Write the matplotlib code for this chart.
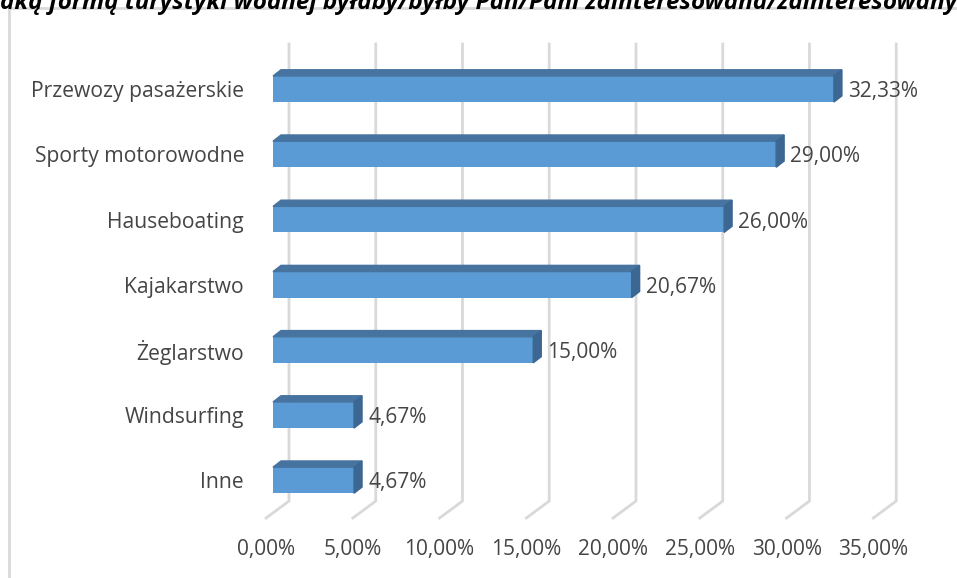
import matplotlib.pyplot as plt
from matplotlib.patches import Polygon, Rectangle

plt.rcParams["font.family"] = ["Open Sans", "DejaVu Sans"]

# Survey results: preferred form of water tourism
categories = ["Przewozy pasażerskie", "Sporty motorowodne", "Hauseboating",
              "Kajakarstwo", "Żeglarstwo", "Windsurfing", "Inne"]
values = [32.33, 29.00, 26.00, 20.67, 15.00, 4.67, 4.67]
x_ticks = [0, 5, 10, 15, 20, 25, 30, 35]
title = "Jaką formą turystyki wodnej byłaby/byłby Pan/Pani zainteresowana/zainteresowany"

front = "#5b9bd5"
top_col = "#4673a0"
side_col = "#3b6792"
grid_col = "#d9d9d9"
text_col = "#454545"

fig = plt.figure(figsize=(9.57, 5.78), dpi=100)
ax = fig.add_axes([0.2853, 0.1128, 0.6345, 0.7896])
ax.set_xlim(0, 35)
ax.set_ylim(-0.5, 6.5)
ax.axis("off")

# pseudo-3D offsets in data units
dx, dy = 0.46, 0.095        # bar depth
wall_dx = 0.92              # back wall offset from bar front
floor_dx, floor_dy = -0.40, -0.58
grid_top, grid_bottom = 6.69, -0.32

# gridlines on the back wall, bending onto the floor
for t in x_ticks:
    ax.plot([t + wall_dx, t + wall_dx, t + floor_dx],
            [grid_top, grid_bottom, floor_dy],
            color=grid_col, lw=2, clip_on=False, zorder=1)
    ax.text(t + floor_dx, -1.07, f"{t:.2f}%".replace(".", ","),
            ha="center", va="center", fontsize=15, color=text_col)

ypos = [len(categories) - 1 - i for i in range(len(categories))]
h = 0.40
ax.barh(ypos, values, height=h, color=front, zorder=3)
for y, v, name in zip(ypos, values, categories):
    y0, y1 = y - h / 2, y + h / 2
    ax.add_patch(Polygon([(0, y1), (v, y1), (v + dx, y1 + dy), (dx, y1 + dy)],
                         closed=True, color=top_col, zorder=3, clip_on=False))
    ax.add_patch(Polygon([(v, y0), (v + dx, y0 + dy), (v + dx, y1 + dy), (v, y1)],
                         closed=True, color=side_col, zorder=3, clip_on=False))
    ax.text(v + dx + 0.35, y - 0.04, f"{v:.2f}%".replace(".", ","),
            ha="left", va="center", fontsize=15, color=text_col)
    ax.text(-1.67, y - 0.04, name, ha="right", va="center",
            fontsize=15.2, color=text_col)

# chart frame and heading running off the top edge
fig.patches.append(Rectangle((9 / 957, -0.1), 1.0, 1 - 8 / 578 + 0.1,
                             transform=fig.transFigure, fill=False,
                             edgecolor=grid_col, lw=2))
fig.text(0.497, 1 - 9 / 578, title, ha="center", va="baseline",
         fontsize=17.5, fontweight="bold", fontstyle="italic", color="black")

fig.savefig("out.png", dpi=100)
